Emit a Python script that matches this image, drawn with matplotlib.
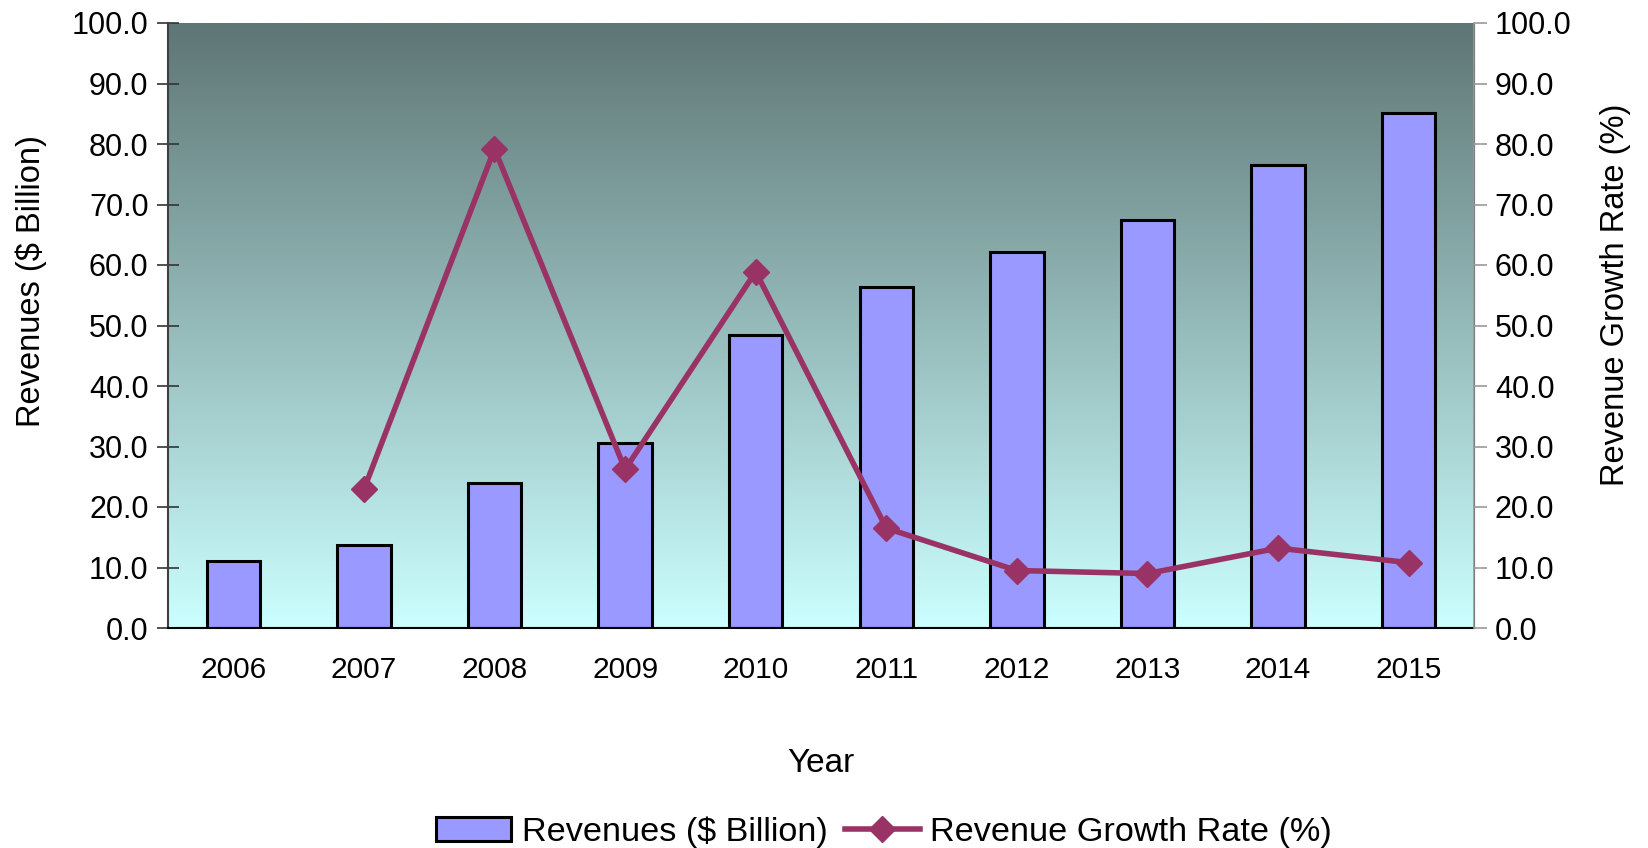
import numpy as np
import matplotlib.pyplot as plt
from matplotlib.colors import LinearSegmentedColormap

plt.rcParams['font.family'] = ['Liberation Sans', 'DejaVu Sans']

years = ['2006', '2007', '2008', '2009', '2010', '2011', '2012', '2013', '2014', '2015']
revenues = [11.1, 13.7, 24.0, 30.6, 48.4, 56.4, 62.2, 67.5, 76.6, 85.1]
growth = [None, 22.9, 79.2, 26.2, 58.9, 16.5, 9.5, 9.0, 13.2, 10.8]
yticks = np.arange(0, 101, 10)

fig = plt.figure(figsize=(16.48, 8.48), dpi=100)
ax = fig.add_axes([168 / 1648, 1 - 628 / 848, (1474 - 168) / 1648, (628 - 23) / 848])
ax2 = ax.twinx()

# gradient background
cmap = LinearSegmentedColormap.from_list('bg', ['#ccffff', '#5e7675'])
grad = np.linspace(0, 1, 256).reshape(-1, 1)
ax.imshow(grad, cmap=cmap, aspect='auto', origin='lower', extent=[0, 1, 0, 1],
          transform=ax.transAxes, zorder=0)

x = np.arange(len(years))
ax.bar(x, revenues, width=0.41, color='#9999ff', edgecolor='black', linewidth=2.2,
       zorder=2, label='Revenues ($ Billion)')
gx = [i for i, g in enumerate(growth) if g is not None]
gy = [g for g in growth if g is not None]
ax2.plot(gx, gy, color='#993366', linewidth=4, marker='D', markersize=13.5,
         label='Revenue Growth Rate (%)', zorder=3)

ax.set_xlim(-0.5, len(years) - 0.5)
ax.set_ylim(0, 100)
ax2.set_ylim(0, 100)
ax.set_yticks(yticks)
ax2.set_yticks(yticks)
ax.set_yticklabels([f'{v:.1f}' for v in yticks])
ax2.set_yticklabels([f'{v:.1f}' for v in yticks])
ax.set_xticks(x)
ax.set_xticklabels(years)

ax.tick_params(axis='y', direction='inout', length=16, width=1.2, colors='#333333',
               labelcolor='black', labelsize=22, pad=6)
ax2.tick_params(axis='y', direction='out', length=9, width=1.2, colors='#999999',
                labelcolor='black', labelsize=22, pad=6)
ax.tick_params(axis='x', length=0, labelsize=21.5, pad=20)

for a in (ax, ax2):
    a.spines['top'].set_visible(False)
    a.patch.set_visible(False)
ax.spines['left'].set_color('#404040')
ax.spines['left'].set_linewidth(1.5)
ax.spines['bottom'].set_linewidth(1.5)
ax2.spines['right'].set_color('#999999')
ax2.spines['right'].set_linewidth(1.2)
ax2.spines['left'].set_visible(False)
ax2.spines['bottom'].set_visible(False)

ax.set_ylabel('Revenues ($ Billion)', fontsize=23.5)
ax.yaxis.set_label_coords(-0.093, 0.573)
ax2.set_ylabel('Revenue Growth Rate (%)', fontsize=23.5)
ax2.yaxis.set_label_coords(1.0965, 0.551)
ax.set_xlabel('Year', fontsize=24)
ax.xaxis.set_label_coords(0.5, -0.198)

h1, l1 = ax.get_legend_handles_labels()
h2, l2 = ax2.get_legend_handles_labels()
fig.legend(h1 + h2, l1 + l2, loc='center', bbox_to_anchor=(884 / 1648, 1 - 832 / 848),
           ncol=2, frameon=False, fontsize=24.7, handlelength=2.2, columnspacing=0.5,
           handletextpad=0.3)

fig.savefig('out.png', dpi=100)
